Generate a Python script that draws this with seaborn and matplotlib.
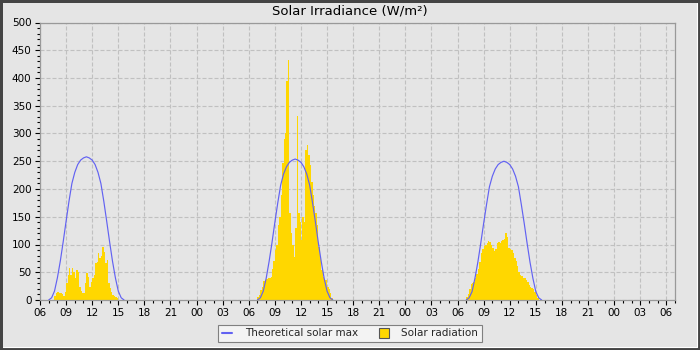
import numpy as np
import pandas as pd
import matplotlib
matplotlib.use("Agg")
import matplotlib.pyplot as plt
from matplotlib.lines import Line2D
from matplotlib.patches import Rectangle
from matplotlib.ticker import MultipleLocator
import seaborn as sns

# ---------------- data ----------------
title = "Solar Irradiance (W/m²)"
legend_labels = ["Theoretical solar max", "Solar radiation"]
x_tick_labels = ["06", "09", "12", "15", "18", "21", "00", "03",
                 "06", "09", "12", "15", "18", "21", "00", "03",
                 "06", "09", "12", "15", "18", "21", "00", "03", "06"]
day_names = ["day 1", "day 2", "day 3"]
day_offset_h = [0, 24, 48]            # hours after the first 06:00

# measured solar radiation, 10-minute bins (W/m²)
rad_start = ["07:40", "07:00", "07:00"]
rad_day1 = [8, 12, 14, 13, 12, 10, 8, 15,
            30, 45, 57, 45, 58, 50,
            40, 54, 50, 24, 16, 12,
            12, 30, 49, 42, 24, 32,
            40, 45, 67, 69, 84, 75,
            80, 96, 87, 67, 72, 30,
            21, 15, 9, 7, 5, 3]
rad_day2 = [5, 9, 18, 24, 34, 36,
            38, 40, 40, 42, 55, 70,
            90, 100, 135, 150, 190, 247,
            290, 300, 394, 433, 157, 120,
            100, 78, 130, 331, 157, 140,
            108, 150, 140, 271, 280, 262,
            243, 213, 189, 170, 157, 135,
            96, 78, 54, 42, 36, 36,
            24, 20, 12, 3]
rad_day3 = [6, 10, 20, 28, 31, 33,
            39, 46, 55, 68, 84, 92,
            97, 99, 103, 106, 105, 100,
            93, 88, 92, 103, 105, 102,
            106, 108, 110, 120, 113, 93,
            91, 90, 84, 76, 70, 62,
            51, 45, 43, 40, 39, 36,
            32, 27, 23, 21, 19, 14,
            9, 4]

# theoretical clear-sky maximum, 20-minute samples (W/m²)
max_start = ["07:00", "07:00", "07:00"]
max_day1 = [0, 4, 16, 40, 70, 105, 142, 178, 210, 230, 244, 252, 256, 258,
            256, 252, 244, 230, 210, 178, 142, 105, 70, 40, 16, 4, 0]
max_day2 = [0, 4, 16, 39, 69, 103, 140, 175, 207, 227, 240, 248, 252, 254,
            252, 248, 240, 227, 207, 175, 140, 103, 69, 39, 16, 4, 0]
max_day3 = [0, 4, 15, 39, 68, 102, 138, 172, 204, 223, 236, 244, 248, 250,
            248, 244, 236, 223, 204, 172, 138, 102, 68, 39, 15, 4, 0]

# ---------------- build tables ----------------
def hhmm(s):
    h, m = s.split(":")
    return int(h) + int(m) / 60.0

rad_rows = []
for name, off, st, vals in zip(day_names, day_offset_h, rad_start,
                               [rad_day1, rad_day2, rad_day3]):
    t0 = off + hhmm(st) - 6
    for k, v in enumerate(vals):
        rad_rows.append({"day": name, "hours": t0 + k / 6 + 1 / 12, "wm2": v})
rad_df = pd.DataFrame(rad_rows)

max_rows = []
for name, off, st, vals in zip(day_names, day_offset_h, max_start,
                               [max_day1, max_day2, max_day3]):
    t0 = off + hhmm(st) - 6
    for k, v in enumerate(vals):
        max_rows.append({"day": name, "hours": t0 + k / 3, "wm2": v})
max_df = pd.DataFrame(max_rows)

# ---------------- style ----------------
BG = "#e5e5e5"
GOLD = "#ffd700"
BLUE = "#6262f2"
sns.set_style("ticks")
plt.rcParams["font.family"] = ["DejaVu Sans"]

fig = plt.figure(figsize=(7, 3.5), dpi=100)
fig.patch.set_facecolor(BG)
ax = fig.add_axes([40 / 700, 50 / 350, 635 / 700, 277.5 / 350])
ax.set_facecolor(BG)
ax.set_axisbelow(True)

sns.histplot(data=rad_df, x="hours", weights="wm2", binwidth=1 / 6,
             binrange=(0, 73), color=GOLD, alpha=1, linewidth=0,
             antialiased=False, ax=ax, zorder=2)
sns.lineplot(data=max_df, x="hours", y="wm2", units="day", estimator=None,
             color=BLUE, linewidth=0.85, ax=ax, zorder=3)

ax.set_xlim(0, 73)
ax.set_ylim(0, 500)
ax.set_xlabel("")
ax.set_ylabel("")
ax.set_xticks(np.arange(0, 73, 3))
ax.set_xticklabels(x_tick_labels)
ax.xaxis.set_minor_locator(MultipleLocator(1))
ax.set_yticks(np.arange(0, 501, 50))
ax.yaxis.set_minor_locator(MultipleLocator(10))
ax.tick_params(which="major", length=3.6, width=0.8, color="black",
               labelsize=7.5, labelcolor="black", pad=2.5)
ax.tick_params(which="minor", length=2.2, width=0.8, color="black")
ax.grid(True, which="major", linestyle=(0, (3.6, 1.8)), color="#c0c0c0",
        linewidth=0.8)
for sp in ax.spines.values():
    sp.set_visible(True)
    sp.set_color("#999999")
    sp.set_linewidth(0.9)

fig.text(0.5, 1 - 10.5 / 350, title, fontsize=9.5, color="black",
         ha="center", va="center")

handles = [Line2D([], [], color=BLUE, lw=1.5),
           Line2D([], [], marker="s", linestyle="none", markersize=7,
                  markerfacecolor=GOLD, markeredgecolor="#555555",
                  markeredgewidth=0.8)]
leg = fig.legend(handles, legend_labels, loc="lower center",
                 bbox_to_anchor=(0.5, 3 / 350), ncol=2, frameon=True,
                 fancybox=False, edgecolor="#808080", facecolor="#f3f3f3",
                 framealpha=1, fontsize=7.5, handlelength=1.0,
                 handletextpad=1.2, columnspacing=2.0, borderpad=0.35)
leg.get_frame().set_linewidth(0.8)

# window-like frame
fig.patches.append(Rectangle((0, 0), 1, 1, transform=fig.transFigure,
                             fill=False, edgecolor="#444444", lw=3.6,
                             zorder=10))
fig.lines.append(Line2D([2.5 / 700, 696.5 / 700, 696.5 / 700],
                        [3.5 / 350, 3.5 / 350, 1 - 2.5 / 350],
                        transform=fig.transFigure, color="white", lw=0.8,
                        zorder=11))

fig.savefig("out.png", dpi=100, facecolor=BG)
